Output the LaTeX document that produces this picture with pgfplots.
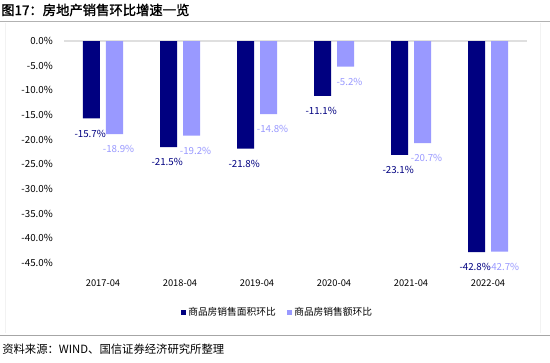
\documentclass[border=0pt]{standalone}
\usepackage{pgfplots}
\pgfplotsset{compat=1.18}
\usepackage{fontspec}
\setmainfont{Noto Sans CJK SC}
\newfontfamily\titlefont[FakeBold=1.5]{Noto Sans CJK SC}
\definecolor{darkbar}{HTML}{000080}
\definecolor{lightbar}{HTML}{9999FF}
\pgfkeys{/pgf/number format/assume math mode=true}
\begin{document}
\begin{tikzpicture}
\begin{scope}[x=0.75pt,y=0.75pt]
\useasboundingbox (0,0) rectangle (550,362);
\node[anchor=west,font=\titlefont\fontsize{10}{12}\selectfont,inner sep=0pt] at (1,352) {图17：房地产销售环比增速一览};
\draw[gray!60,line width=1.2pt] (0,340.5) -- (550,340.5);
\draw[gray!10,line width=0.6pt] (5,339) -- (5,29);
\draw[gray!10,line width=0.6pt] (540,339) -- (540,29);
\draw[gray!70,line width=1.4pt] (0,26.5) -- (550,26.5);
\node[anchor=west,font=\fontsize{8.5}{10}\selectfont,inner sep=0pt] at (2,13) {资料来源：WIND、国信证券经济研究所整理};
\foreach \v in {0,-5,...,-45} {
  \pgfmathsetmacro{\yy}{362-41-(-\v)*4.9333}
  \node[anchor=east,font=\fontsize{7.3}{8}\selectfont,inner sep=0pt] at (53,\yy) {\pgfmathprintnumber[fixed,fixed zerofill,precision=1]{\v}\%};
}
\foreach \lab [count=\i from 0] in {2017-04,2018-04,2019-04,2020-04,2021-04,2022-04} {
  \node[font=\fontsize{7}{8}\selectfont,inner sep=0pt] at (103+77*\i,79) {\lab};
}
\fill[darkbar] (181,52.5) rectangle (186,47.5);
\node[anchor=west,font=\fontsize{7.3}{8}\selectfont,inner sep=0pt] at (188,50) {商品房销售面积环比};
\fill[lightbar] (287,52.5) rectangle (292,47.5);
\node[anchor=west,font=\fontsize{7.3}{8}\selectfont,inner sep=0pt] at (294,50) {商品房销售额环比};
\end{scope}
\begin{axis}[
  at={(48.375pt,74.25pt)}, anchor=south west,
  scale only axis, width=346.5pt, height=166.5pt,
  xmin=-0.5, xmax=5.5, ymin=-45, ymax=0,
  ybar=4.5pt, bar width=12.75pt,
  axis lines=none,
  clip=false,
  xtick=\empty, ytick=\empty,
  nodes near coords={\pgfmathprintnumber[fixed,fixed zerofill,precision=1]{\pgfplotspointmeta}\%},
  nodes near coords style={font=\fontsize{7.3}{8}\selectfont, anchor=north, yshift=-5pt},
]
\draw[gray!25,line width=0.8pt] (axis cs:-0.5,0) -- (axis cs:5.5,0);
\addplot[fill=darkbar, draw=none, nodes near coords style={text=darkbar, xshift=-1pt}] coordinates {(0,-15.7) (1,-21.5) (2,-21.8) (3,-11.1) (4,-23.1) (5,-42.8)};
\addplot[fill=lightbar, draw=none, nodes near coords style={text=lightbar, xshift=3pt}] coordinates {(0,-18.9) (1,-19.2) (2,-14.8) (3,-5.2) (4,-20.7) (5,-42.7)};
\end{axis}
\end{tikzpicture}
\end{document}
